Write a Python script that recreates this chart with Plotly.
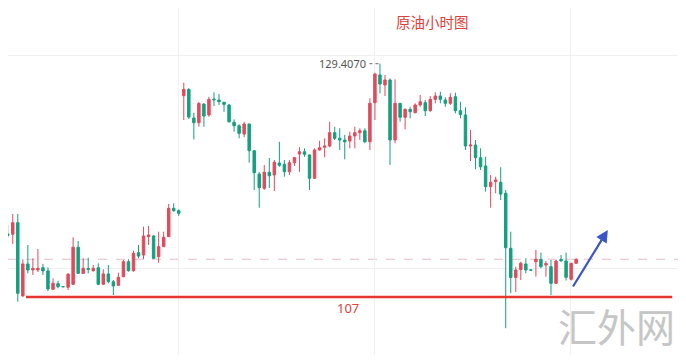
import plotly.graph_objects as go

# Hourly crude oil candles (price units), oldest first
opens = [113.14, 113.05, 113.02, 114.13, 107.10, 110.17, 109.59, 109.59, 109.81, 109.50,
         107.74, 108.28, 108.00, 107.93, 108.22, 111.77, 109.27, 109.74, 109.52, 109.81,
         108.22, 109.21, 108.47, 108.12, 108.95, 110.39, 109.52, 111.25, 111.03, 112.79,
         112.85, 110.87, 111.83, 112.79, 115.51, 115.28,
         126.32, 126.93, 124.18, 123.73, 125.52, 124.47, 126.00, 125.91, 125.69, 125.43,
         123.77, 123.44, 122.64, 123.60, 121.04, 118.80, 117.43, 118.97, 118.71, 119.86,
         119.74, 119.02, 119.89, 120.72, 120.94, 120.63, 118.39, 121.11, 121.37, 121.49,
         122.77, 122.23, 122.07, 121.97, 122.45, 122.77, 122.96, 121.90, 125.65, 128.31,
         127.35, 127.83, 122.07, 125.59, 124.25, 125.01, 124.69, 125.43, 125.65, 124.88,
         125.97, 126.29, 125.91, 125.59, 126.22, 124.88, 124.47, 121.49, 121.59, 120.37,
         119.57, 117.59, 118.07, 118.01, 116.95, 111.67, 108.87, 109.64, 110.17, 109.60,
         110.39, 110.62, 110.07, 109.91, 108.31, 110.62, 110.45, 108.70, 110.23]
highs = [114.10, 113.91, 114.97, 114.97, 110.62, 111.99, 110.71, 111.61, 110.17, 109.85,
         108.79, 108.56, 108.01, 109.30, 112.73, 112.37, 110.71, 110.77, 110.07, 110.23,
         109.66, 110.07, 108.63, 109.33, 110.55, 110.62, 111.44, 111.99, 113.75, 113.81,
         112.95, 113.27, 113.27, 115.93, 115.99, 115.42,
         127.57, 127.03, 124.69, 125.74, 125.59, 126.22, 126.65, 126.48, 125.72, 125.52,
         124.05, 123.57, 123.82, 123.65, 121.11, 119.00, 119.67, 120.34, 120.15, 121.90,
         120.15, 120.15, 120.46, 121.37, 121.27, 120.69, 121.27, 122.00, 122.23, 123.82,
         123.34, 123.19, 122.55, 122.86, 123.34, 123.19, 123.19, 126.07, 128.53, 129.407,
         128.31, 127.99, 127.89, 125.62, 125.11, 125.26, 125.59, 126.39, 125.91, 126.29,
         126.65, 126.70, 126.17, 126.55, 126.61, 125.74, 125.21, 123.03, 122.07, 121.27,
         120.46, 118.71, 118.55, 119.45, 117.27, 113.27, 109.91, 110.39, 110.71, 109.61,
         111.51, 111.25, 110.45, 110.55, 110.55, 111.03, 111.25, 110.29, 110.71]
lows = [112.66, 112.66, 112.09, 106.55, 107.03, 109.27, 109.11, 109.40, 109.11, 107.58,
        107.67, 107.83, 107.97, 107.67, 108.15, 109.21, 109.21, 109.27, 109.43, 108.12,
        108.15, 108.31, 107.19, 108.06, 108.89, 109.43, 109.43, 110.71, 110.62, 111.99,
        110.65, 110.29, 111.80, 112.76, 115.19, 114.77,
        123.99, 124.08, 122.12, 123.34, 123.34, 124.30, 125.33, 125.43, 124.78, 123.73,
        122.86, 122.23, 122.33, 119.89, 117.27, 115.57, 117.27, 117.46, 117.17, 119.50,
        118.55, 118.71, 119.57, 119.02, 120.46, 117.27, 118.32, 121.04, 120.41, 121.37,
        122.07, 121.11, 120.21, 121.27, 121.27, 122.07, 121.75, 121.11, 123.99, 126.55,
        126.29, 119.67, 121.75, 123.82, 123.09, 124.15, 124.63, 125.26, 124.37, 124.78,
        125.59, 125.59, 125.26, 125.43, 124.63, 124.15, 121.11, 120.05, 119.26, 119.19,
        117.11, 115.57, 116.95, 116.31, 104.00, 107.36, 107.48, 108.63, 109.27, 109.57,
        108.95, 109.75, 108.95, 107.19, 108.25, 110.36, 108.58, 108.58, 110.23]
closes = [113.00, 112.90, 114.13, 107.36, 110.17, 109.59, 109.75, 109.75, 109.50, 107.77,
          108.31, 107.99, 107.98, 109.18, 111.77, 109.27, 109.75, 109.64, 109.75, 108.22,
          109.21, 108.47, 108.06, 108.89, 110.39, 109.52, 111.19, 110.93, 112.85, 112.95,
          110.71, 111.83, 112.73, 115.51, 115.28, 115.03,
          126.93, 124.27, 123.73, 125.57, 124.37, 125.97, 125.93, 125.74, 125.49, 123.82,
          123.44, 122.71, 123.60, 121.04, 118.93, 117.49, 118.97, 118.64, 119.93, 119.64,
          119.02, 119.89, 120.37, 120.94, 120.69, 118.39, 121.11, 121.33, 121.49, 122.77,
          122.23, 122.07, 121.90, 122.45, 122.77, 122.96, 121.90, 125.59, 128.40, 127.44,
          127.83, 122.07, 125.59, 124.25, 125.01, 124.78, 125.43, 125.74, 124.88, 125.97,
          126.29, 125.97, 125.59, 126.17, 124.88, 124.51, 121.49, 121.59, 120.37, 119.50,
          117.59, 118.01, 118.23, 116.88, 111.73, 108.87, 109.59, 110.23, 109.59, 109.58,
          110.62, 109.91, 110.21, 108.31, 110.45, 110.48, 108.89, 110.23, 110.62]

bars = list(range(len(opens)))

support_level = 107
high_label = "129.4070"
title_text = "原油小时图"
watermark = "汇外网"

# layout helpers (data units); the page body adds an 8px margin on every
# side, so the figure is 670x347 and the ranges cover that visible area
x_range = [1.054, 134.25]
y_range = [101.43, 134.74]
grid_x = [34.85, 74.0, 112.8]
grid_y = [109.69, 130.22]
support_x = [4.63, 133.1]
arrow_tail = (113.2, 107.86)
arrow_head = (120.3, 113.43)

RED = "#e04b5c"
GREEN = "#13a07f"

fig = go.Figure()
fig.add_trace(go.Candlestick(
    x=bars, open=opens, high=highs, low=lows, close=closes,
    increasing=dict(line=dict(color=RED, width=1), fillcolor=RED),
    decreasing=dict(line=dict(color=GREEN, width=1), fillcolor=GREEN),
    whiskerwidth=0, showlegend=False, hoverinfo="skip",
))

# current price dashed line
fig.add_shape(type="line", xref="paper", x0=0, x1=1, y0=closes[-1], y1=closes[-1],
              line=dict(color="#e8bfc3", width=1, dash="dash"), layer="below")
# support line at 107
fig.add_shape(type="line", x0=support_x[0], x1=support_x[1], y0=support_level, y1=support_level,
              line=dict(color="#e8352f", width=2.5))
fig.add_annotation(x=(support_x[0] + support_x[1]) / 2 - 0.2, y=support_level, yshift=-11,
                   text=str(support_level), showarrow=False, xanchor="center", yanchor="middle",
                   font=dict(family="Noto Sans, Arial", size=13, color="#e0403a"))

# high label with dotted leader
hi_idx = highs.index(max(highs))
fig.add_shape(type="line", x0=hi_idx - 2.1, x1=hi_idx - 0.2, y0=max(highs), y1=max(highs),
              line=dict(color="#888888", width=1.2, dash="dot"))
fig.add_annotation(x=hi_idx - 2.3, y=max(highs), text=high_label, showarrow=False,
                   xanchor="right", yanchor="middle",
                   font=dict(family="Noto Sans, Arial", size=11, color="#555555"))

# title
fig.add_annotation(xref="paper", yref="paper", x=0.6343, y=0.9597, text=title_text,
                   showarrow=False, xanchor="center", yanchor="middle",
                   font=dict(family="Noto Sans CJK SC", size=14.5, color="#e0403a"))

# watermark (kept fully inside the figure)
fig.add_annotation(xref="paper", yref="paper", x=0.9985, y=0.0, text=watermark,
                   showarrow=False, xanchor="right", yanchor="bottom",
                   font=dict(family="Noto Sans CJK SC", size=39, color="#c6c6c6"))

# blue arrow
fig.add_annotation(x=arrow_head[0], y=arrow_head[1], ax=arrow_tail[0], ay=arrow_tail[1],
                   axref="x", ayref="y", text="", showarrow=True,
                   arrowhead=2, arrowsize=1.1, arrowwidth=2.2, arrowcolor="#3a55c8")

fig.update_layout(
    width=670, height=347, margin=dict(l=0, r=0, t=0, b=0),
    paper_bgcolor="white", plot_bgcolor="white",
    xaxis=dict(range=x_range, showticklabels=False, tickvals=grid_x, showgrid=True,
               gridcolor="#f0f0f0", zeroline=False, rangeslider=dict(visible=False),
               showline=False, ticks=""),
    yaxis=dict(range=y_range, showticklabels=False, tickvals=grid_y, showgrid=True,
               gridcolor="#f0f0f0", zeroline=False, showline=False, ticks=""),
)

fig.write_html("out.html")
